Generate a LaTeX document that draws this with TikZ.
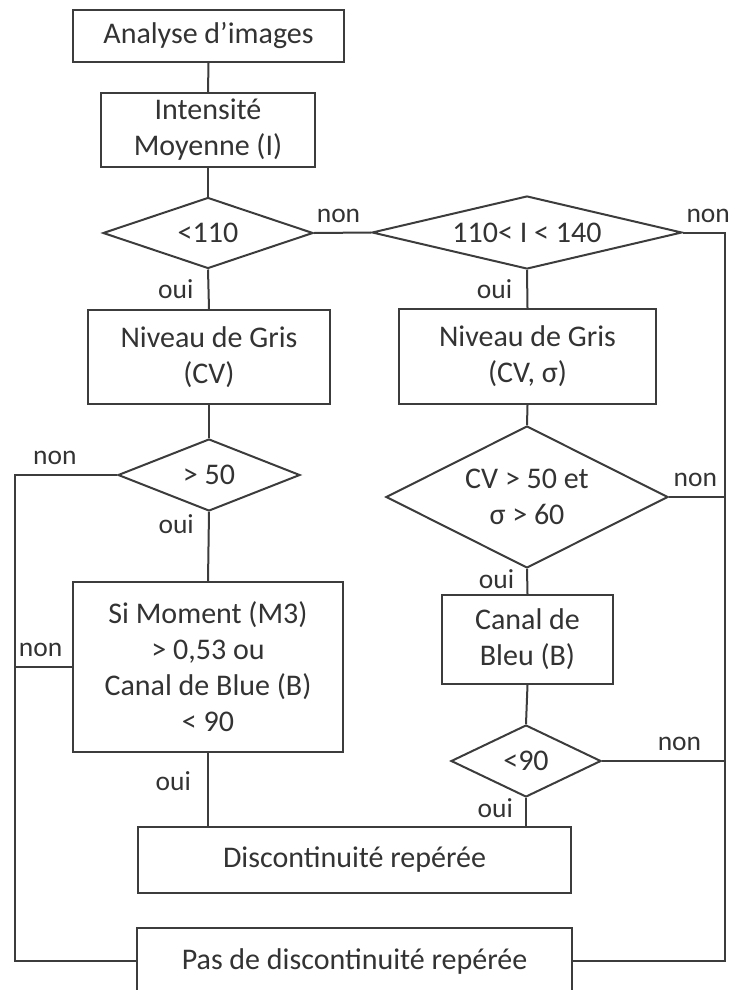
\documentclass[tikz,border=0pt]{standalone}
\usepackage{fontspec}
\setmainfont{Carlito}
\usetikzlibrary{shapes.geometric}
\definecolor{linegray}{HTML}{3C3C3C}
\definecolor{textgray}{HTML}{333333}
\begin{document}
\begin{tikzpicture}[x=1pt, y=-1pt,
  every node/.style={text=textgray, font=\fontsize{30}{36}\selectfont, align=center},
  box/.style={draw=linegray, line width=2pt, inner sep=0pt},
  test/.style={draw=linegray, line width=2pt, diamond, inner sep=0pt},
  lbl/.style={font=\fontsize{27.5}{32}\selectfont, inner sep=4pt},
  link/.style={draw=linegray, line width=2pt}]
\useasboundingbox (0,0) rectangle (728,990);
\clip (0,0) rectangle (728,990);
% left branch
\node[box, minimum width=271, minimum height=52] (analyse) at (208.5,36) {Analyse d’images};
\node[box, minimum width=214, minimum height=74] (intens) at (208,130) {Intensité\\Moyenne (I)};
\node[test, aspect=3, minimum width=210, minimum height=71] (lt110) at (208,233) {<110};
\node[box, minimum width=242, minimum height=94] (gris1) at (209,357) {Niveau de Gris\\(CV)};
\node[test, aspect=2.5, minimum width=182, minimum height=72] (gt50) at (209,475) {> 50};
\node[box, minimum width=270, minimum height=170] (moment) at (208,667) {Si Moment (M3)\\> 0,53 ou\\Canal de Blue (B)\\< 90};
% right branch
\node[test, aspect=4.2, minimum width=310, minimum height=73] (mid) at (527,232.5) {110< I < 140};
\node[box, minimum width=257, minimum height=95] (gris2) at (527.5,356.5) {Niveau de Gris\\(CV, σ)};
\node[test, aspect=2, minimum width=282, minimum height=142] (cv) at (527,497) {CV > 50 et\\σ > 60};
\node[box, minimum width=171, minimum height=89] (bleu) at (527.5,639.5) {Canal de\\Bleu (B)};
\node[test, aspect=2, minimum width=150, minimum height=72] (lt90) at (526,761) {<90};
% results
\node[box, minimum width=433, minimum height=66] (disc) at (354.5,860) {Discontinuité repérée};
\node[box, minimum width=435, minimum height=66] (pas) at (354.5,961) {Pas de discontinuité repérée};
\coordinate (railL) at (15,0);
\coordinate (railR) at (725,0);
% connectors
\draw[link] (analyse.south) -- (intens.north);
\draw[link] (intens.south) -- (lt110.north);
\draw[link] (lt110.south) -- node[lbl, left, xshift=-10] {oui} (gris1.north);
\draw[link] (lt110.east) -- node[lbl, above, pos=0.43, yshift=5] {non} (mid.west);
\draw[link] (gris1.south) -- (gt50.north);
\draw[link] (gt50.south) -- node[lbl, left, pos=0.18, xshift=-10] {oui} (moment.north);
\draw[link] (gt50.west) -- node[lbl, above, pos=0.61, yshift=5] {non} (gt50.west -| railL) |- (pas.west);
\draw[link] (moment.west) -- node[lbl, above, pos=0.55, yshift=5] {non} (moment.west -| railL);
\draw[link] (moment.south) -- node[lbl, left, pos=0.38, xshift=-12] {oui} (moment.south |- disc.north);
\draw[link] (mid.east) -- node[lbl, above, pos=0.6, yshift=5] {non} (mid.east -| railR) |- (pas.east);
\draw[link] (mid.south) -- node[lbl, left, xshift=-10] {oui} (gris2.north);
\draw[link] (gris2.south) -- (cv.north);
\draw[link] (cv.east) -- node[lbl, above, pos=0.47, yshift=5] {non} (cv.east -| railR);
\draw[link] (cv.south) -- node[lbl, left, pos=0.4, xshift=-8] {oui} (bleu.north);
\draw[link] (bleu.south) -- (lt90.north);
\draw[link] (lt90.east) -- node[lbl, above, pos=0.63, yshift=5] {non} (lt90.east -| railR);
\draw[link] (lt90.south) -- node[lbl, left, pos=0.35, xshift=-8] {oui} (lt90.south |- disc.north);
\end{tikzpicture}
\end{document}
